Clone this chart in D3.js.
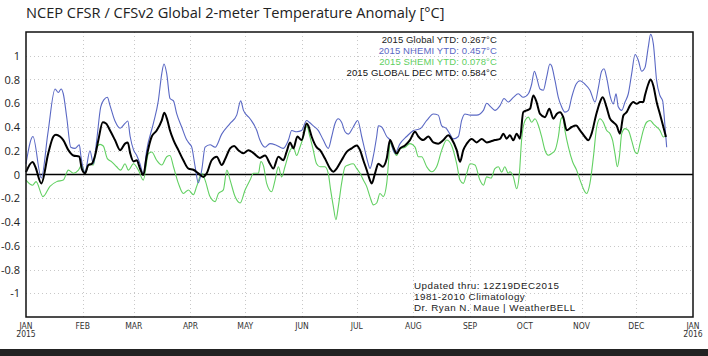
<!DOCTYPE html>
<html>
<head>
<meta charset="utf-8">
<script src="https://cdn.jsdelivr.net/npm/d3@7/dist/d3.min.js"></script>
<style>
  html, body { margin: 0; padding: 0; background: #fff; }
  svg { display: block; }
</style>
</head>
<body>
<svg id="chart" width="708" height="356"></svg>
<script>
// ---- data (day offset from 1 Jan 2015, anomaly °C) ----
const nhemiDays = [0,3.8,8.4,12,15.9,17.7,19.2,20.4,22.3,24.5,26.8,29.2,30,32.3,35,36.9,38.7,40.9,42.7,44.5,46,48.7,51.5,54.2,55.7,57,58.8,60.6,62.4,64.2,66,69.7,72.4,74.3,75.5,77,78.8,80.7,82.5,85.2,88,89.4,90.7,92.5,94.3,96.2,98,100.7,103.5,107.1,111.7,115.3,117.5,119,122.6,126.3,128,130.8,133.5,137.2,140.8,143.6,145.4,148.1,150.8,153.6,155,157.2,160,162.7,165.4,167.3,169.1,170.9,172.7,174.6,176.4,179.1,181.5,183.7,185.5,187.3,188.2,190,191.9,192.8,194.6,197.4,199.2,201.9,204.7,208.3,212,215.6,219.3,222.9,225.6,227.5,230.2,232,233.8,236.6,238.4,240.2,243,246.6,250.3,252.1,254.5,256.6,259.4,261.6,263.9,266.7,269.4,272.1,274.9,276.7,278.2,279.4,281.3,283.1,284.9,286.7,287.6,289.5,291.3,293.1,294.9,296.8,298.6,301,303.2,305.9,308.6,311.4,313.2,315,316.3,317.7,319.6,321.4,322.9,324.1,326,327.8,329.6,331.4,333.3,335.1,336.9,338.7,340.5,341.8,343.3,345.1,346.9,348.4,349.7,350.6];
const nhemiVals = [0.09,0.32,-0.03,0.35,0.72,0.69,0.72,0.68,0.48,0.23,0.22,0.25,0.16,0.02,0.2,0.09,0.29,0.57,0.63,0.65,0.58,0.45,0.39,0.43,0.45,0.32,0.21,0.16,0.09,0.0,0.2,0.43,0.62,0.85,0.93,0.85,0.64,0.62,0.51,0.4,0.29,0.26,0.23,0.07,-0.07,0.04,0.23,0.25,0.23,0.34,0.43,0.5,0.62,0.54,0.47,0.37,0.29,0.23,0.26,0.245,0.22,0.29,0.37,0.36,0.37,0.455,0.44,0.41,0.37,0.29,0.22,0.32,0.43,0.47,0.44,0.36,0.34,0.4,0.455,0.32,0.2,0.09,0.05,0.15,0.32,0.41,0.4,0.32,0.29,0.18,0.26,0.32,0.37,0.385,0.455,0.51,0.5,0.41,0.385,0.34,0.3,0.32,0.455,0.51,0.5,0.5,0.54,0.6,0.567,0.54,0.58,0.64,0.61,0.65,0.68,0.65,0.68,0.76,0.87,0.82,0.72,0.71,0.82,0.93,0.915,0.79,0.65,0.57,0.525,0.54,0.65,0.76,0.79,0.76,0.71,0.61,0.73,0.87,0.89,0.82,0.665,0.595,0.68,0.57,0.54,0.61,0.68,0.845,1.01,0.96,0.87,0.9,1.07,1.18,1.1,0.79,0.665,0.62,0.4,0.23];

const globalDays = [0,3.6,5.1,8.4,12.2,15,16.4,18.6,20.4,23.2,25.9,29.2,30.5,32.3,34.1,36,37.8,39.6,42,43.8,46,48.7,51.5,54.2,55.7,57,58.8,60.6,62.4,64.2,66,68.8,71.5,74.3,75.7,77.4,78.8,80.7,83.4,86.1,88.9,91.6,94.3,97.1,98.9,101.6,104.4,107.1,109,111.7,113.9,116.2,119,121.7,124.5,128,130.8,133.5,135.3,138.1,140.8,142.6,144.5,146.3,148.5,150.8,153.6,154.5,156.3,159,160.9,163.6,166.4,168.2,170,172.7,175.5,178.2,180.9,182.8,184.6,186.4,188.2,189.2,191,192.8,195.2,197.4,199.2,201,202.8,204.7,207.4,210.1,212.9,214.7,217.4,220.2,222.9,225.6,228.4,231.1,232.9,235.7,237.5,239.3,241.2,243.9,246.6,249.4,252.1,254.5,256.6,259.4,261.2,263,264.8,266.7,268.5,270.3,272.1,274,275.8,277.6,279.4,281.3,284,286.4,288.6,290.4,292.2,294,295.9,298.6,301,303.2,305.9,307.7,309.5,311.9,314.1,315.6,317.7,319.6,321.4,323.2,325,326.9,328.7,330.5,332.3,334.2,336,337.8,338.7,340.5,341.8,343.3,345.1,346.9,348.8,350.2];
const globalVals = [0.02,0.105,0.065,-0.075,0.18,0.32,0.335,0.32,0.29,0.205,0.16,0.15,0.05,0.01,0.08,0.09,0.16,0.29,0.44,0.43,0.37,0.29,0.205,0.26,0.27,0.18,0.11,0.12,0.05,-0.005,0.15,0.32,0.37,0.455,0.52,0.455,0.37,0.29,0.205,0.12,0.05,0.04,0.01,-0.02,0.01,0.12,0.15,0.08,0.13,0.22,0.24,0.205,0.18,0.205,0.18,0.14,0.16,0.09,0.05,0.15,0.12,0.19,0.27,0.22,0.32,0.29,0.43,0.41,0.32,0.23,0.205,0.134,0.05,0.023,0.05,0.12,0.19,0.22,0.245,0.205,0.12,0.04,-0.047,-0.075,0.01,0.09,0.065,0.134,0.29,0.23,0.176,0.22,0.245,0.29,0.36,0.32,0.29,0.32,0.27,0.26,0.29,0.33,0.3,0.205,0.107,0.205,0.26,0.3,0.27,0.3,0.27,0.28,0.29,0.3,0.344,0.302,0.33,0.288,0.344,0.302,0.525,0.54,0.553,0.665,0.61,0.51,0.483,0.553,0.47,0.51,0.525,0.483,0.372,0.4,0.413,0.372,0.316,0.288,0.344,0.497,0.61,0.65,0.567,0.47,0.44,0.413,0.344,0.497,0.525,0.58,0.61,0.595,0.61,0.61,0.665,0.76,0.8,0.748,0.61,0.51,0.4,0.316];

const shemiDays = [0,3.6,5.5,9.3,13.1,16.8,20.4,23.2,25.9,28.7,30.5,32.3,34.7,36.9,38.7,40.5,42.3,44.5,46.9,49.6,51.8,54.2,56,58.8,61.5,64.2,67,68.8,71.5,74.3,77,78.8,80.7,83.4,86.1,88.9,91.6,93.4,96.2,98,100.7,103.5,105.3,108,109.9,111.7,114.4,117.2,119.9,122.6,124.5,127.2,128.5,130,131.7,134.4,136.3,138.1,139.9,141.7,144.5,146.3,148.1,149.9,151.8,153.6,155.4,157.2,159,160.9,163.6,165.4,166.7,168.2,169.6,170.9,172.7,174.6,176.4,179.1,181,182.8,184.6,186.4,188.2,190.1,191.9,193.7,195.5,197.4,198.3,199.2,201,202.8,204.7,207.4,210.1,212.9,214.7,216.5,219.3,222,224.7,227.5,230.2,232.9,235.7,237.5,239.3,241.2,243,245.7,248.4,250.3,252.1,254.5,256.6,258.5,260.3,262,263.9,264.8,266.7,268.5,270,271.2,273.1,274.9,276.7,278.5,280.4,282.2,284,285.8,287.6,289.5,291.3,292.8,293.7,294.9,296.8,299.1,301.3,303.2,305,306.8,308.6,310.5,312.3,314.1,315.9,317.7,319.6,321,322.3,323.6,324.7,326,327.8,329.6,331.4,333.3,334.5,336,337.8,339.6,341.5,343.3,345.1,346.9,348.8,350.2];
const shemiVals = [-0.047,-0.09,-0.06,-0.186,-0.1,-0.06,-0.047,0.037,0.01,0.037,0.08,0.01,0.09,0.08,0.23,0.254,0.24,0.134,0.107,0.065,0.037,0.09,0.037,0.09,0.037,-0.047,0.176,0.19,0.12,0.08,0.15,0.16,0.065,-0.075,-0.16,-0.13,-0.17,-0.1,0.01,-0.047,-0.186,-0.228,-0.16,-0.13,0.037,-0.047,-0.186,-0.24,-0.13,-0.047,0.01,0.01,0.11,0.07,-0.075,-0.145,-0.047,0.065,-0.02,0.065,0.205,0.23,0.16,0.23,0.316,0.41,0.316,0.205,0.09,0.065,0.065,0.01,-0.13,-0.27,-0.38,-0.27,-0.075,0.065,0.08,0.09,0.05,0.01,-0.047,-0.1,-0.186,-0.256,-0.24,-0.16,-0.186,-0.075,0.09,0.27,0.205,0.16,0.218,0.23,0.26,0.23,0.15,0.15,0.065,0.023,0.065,0.205,0.29,0.245,0.09,-0.047,-0.075,0.01,0.09,0.08,-0.047,-0.09,-0.02,-0.03,0.05,0.065,0.02,0.065,0.01,0.023,-0.02,-0.12,0.01,0.29,0.455,0.483,0.44,0.47,0.413,0.316,0.204,0.162,0.176,0.204,0.316,0.47,0.483,0.372,0.232,0.107,0.037,-0.047,-0.12,-0.16,-0.075,0.148,0.4,0.47,0.44,0.372,0.344,0.288,0.176,0.065,0.148,0.344,0.386,0.372,0.288,0.19,0.176,0.26,0.372,0.44,0.455,0.427,0.4,0.372,0.316,0.33];

const yTicks = [1,0.8,0.6,0.4,0.2,0,-0.2,-0.4,-0.6,-0.8,-1];
const monthLabels = ["JAN","FEB","MAR","APR","MAY","JUN","JUL","AUG","SEP","OCT","NOV","DEC","JAN"];
const yearLabels = {0:"2015", 12:"2016"};
const titleText = "NCEP CFSR / CFSv2 Global 2-meter Temperature Anomaly [°C]";
const legendLines = [
  {text:"2015 Global YTD: 0.267°C", color:"#222"},
  {text:"2015 NHEMI YTD: 0.457°C", color:"#5a68c4"},
  {text:"2015 SHEMI YTD: 0.078°C", color:"#5fcf5f"},
  {text:"2015 GLOBAL DEC MTD: 0.584°C", color:"#111"}
];
const noteLines = ["Updated thru: 12Z19DEC2015","1981-2010 Climatology","Dr. Ryan N. Maue | WeatherBELL"];

// ---- layout ----
const svg = d3.select("#chart");
const L = 26, R = 693, T = 32, B = 317;
const t0 = Date.UTC(2015,0,1);
const dayToDate = d => new Date(t0 + d*864e5);

const x = d3.scaleUtc().domain([new Date(Date.UTC(2015,0,1)), new Date(Date.UTC(2016,0,1))]).range([L, R]);
const y = d3.scaleLinear().domain([-1.2, 1.2]).range([B, T]);

svg.append("rect").attr("width",708).attr("height",356).attr("fill","#fff");

// title
svg.append("text").attr("x", 26).attr("y", 18)
  .attr("font-family","'Open Sans', 'Noto Sans', sans-serif").attr("font-size", 14.6)
  .attr("fill","#222").text(titleText);

// gridlines
const monthDates = d3.utcMonths(new Date(Date.UTC(2015,0,1)), new Date(Date.UTC(2016,0,2)));
const grid = svg.append("g").attr("stroke","#c8c8c8").attr("stroke-width",1).attr("stroke-dasharray","1,3");
grid.selectAll("line.h").data(yTicks.filter(v => v !== 0)).join("line")
  .attr("x1", L).attr("x2", R).attr("y1", d => Math.round(y(d))+0.5).attr("y2", d => Math.round(y(d))+0.5);
grid.selectAll("line.v").data(monthDates.slice(1, -1)).join("line")
  .attr("y1", T).attr("y2", B).attr("x1", d => Math.round(x(d))+0.5).attr("x2", d => Math.round(x(d))+0.5);

// zero line
svg.append("line").attr("x1", L).attr("x2", R).attr("y1", y(0)).attr("y2", y(0))
  .attr("stroke","#000").attr("stroke-width",1.3);

// y axis labels
const yAxis = d3.axisLeft(y).tickValues(yTicks).tickSize(0).tickPadding(6)
  .tickFormat(d => d === 0 ? "0" : String(d));
const ya = svg.append("g").attr("transform", `translate(${L},0)`).call(yAxis);
ya.select(".domain").remove();
ya.selectAll("text").attr("font-family","'Open Sans', 'Noto Sans', sans-serif").attr("font-size", 11).attr("fill","#222");

// x axis labels
const xa = svg.append("g").attr("transform", `translate(0,${B})`)
  .call(d3.axisBottom(x).tickValues(monthDates).tickSize(0).tickFormat(""));
xa.select(".domain").remove();
const xl = svg.append("g").attr("font-family","'DejaVu Sans Condensed', 'DejaVu Sans', sans-serif")
  .attr("font-size", 8.5).attr("fill","#333").attr("text-anchor","middle");
monthDates.forEach((d, i) => {
  xl.append("text").attr("x", x(d)).attr("y", B + 11.5).text(monthLabels[i]);
  if (yearLabels[i]) xl.append("text").attr("x", x(d)).attr("y", B + 20).text(yearLabels[i]);
});

// series
const mk = (days, vals) => days.map((d, i) => ({date: dayToDate(d), v: vals[i]}));
const line = d3.line().x(d => x(d.date)).y(d => y(d.v)).curve(d3.curveMonotoneX);
const plot = svg.append("g");
plot.append("path").datum(mk(shemiDays, shemiVals)).attr("d", line)
  .attr("fill","none").attr("stroke","#62d062").attr("stroke-width",1.1);
plot.append("path").datum(mk(nhemiDays, nhemiVals)).attr("d", line)
  .attr("fill","none").attr("stroke","#5a68c4").attr("stroke-width",1.1);
plot.append("path").datum(mk(globalDays, globalVals)).attr("d", line)
  .attr("fill","none").attr("stroke","#000").attr("stroke-width",2);

// frame
svg.append("rect").attr("x", L).attr("y", T).attr("width", R - L).attr("height", B - T)
  .attr("fill","none").attr("stroke","#111").attr("stroke-width",1.5);

// legend text
const lg = svg.append("g").attr("font-family","'Liberation Sans', Arial, sans-serif")
  .attr("font-size", 9.5).attr("letter-spacing", 0.12).attr("text-anchor","end");
legendLines.forEach((l, i) => {
  lg.append("text").attr("x", 497).attr("y", 42.5 + i*11).attr("fill", l.color).text(l.text);
});

// notes
const ng = svg.append("g").attr("font-family","'Liberation Sans', Arial, sans-serif")
  .attr("font-size", 9.8).attr("letter-spacing", 0.5).attr("fill","#222");
noteLines.forEach((t, i) => {
  ng.append("text").attr("x", 414).attr("y", 288.5 + i*11).text(t);
});

// dark strip at bottom
svg.append("rect").attr("x",0).attr("y",349).attr("width",708).attr("height",7).attr("fill","#222");
</script>
</body>
</html>
